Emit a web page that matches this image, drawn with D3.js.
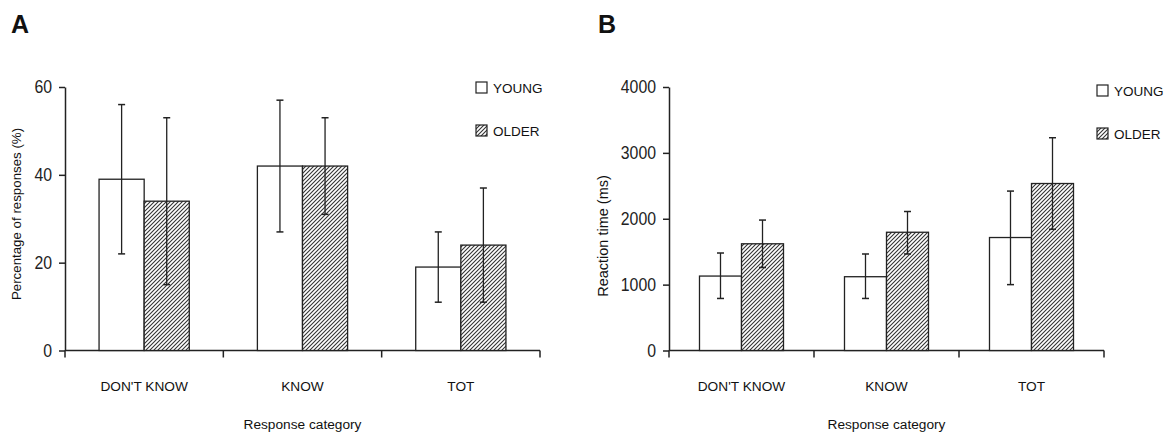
<!DOCTYPE html>
<html>
<head>
<meta charset="UTF-8">
<script src="https://cdn.jsdelivr.net/npm/d3@7"></script>
<style>
  body { margin: 0; background: #fff; }
  svg { display: block; }
  .lbl { font-family: Arial, "Liberation Sans", sans-serif; fill: #111; }
  .tick text { font-family: Arial, "Liberation Sans", sans-serif; font-size: 18px; fill: #222; }
  .tick line, .domain { stroke: #222; }
</style>
</head>
<body>
<script>
// categories and groups
const categories = ["DON'T KNOW", "KNOW", "TOT"];
const groups = ["YOUNG", "OLDER"];

// panel A: percentage of responses
const pctYoung = [39, 42, 19];
const pctYoungLo = [22, 27, 11];
const pctYoungHi = [56, 57, 27];
const pctOlder = [34, 42, 24];
const pctOlderLo = [15, 31, 11];
const pctOlderHi = [53, 53, 37];
const pctTicks = [0, 20, 40, 60];

// panel B: reaction time
const rtYoung = [1130, 1120, 1715];
const rtYoungLo = [790, 790, 1000];
const rtYoungHi = [1480, 1465, 2420];
const rtOlder = [1620, 1795, 2535];
const rtOlderLo = [1260, 1465, 1840];
const rtOlderHi = [1980, 2110, 3230];
const rtTicks = [0, 1000, 2000, 3000, 4000];

const svg = d3.select("body").append("svg")
  .attr("width", 1166).attr("height", 432);

// hatch pattern for OLDER bars
const pat = svg.append("defs").append("pattern")
  .attr("id", "hatch").attr("patternUnits", "userSpaceOnUse")
  .attr("width", 4).attr("height", 4);
pat.append("rect").attr("width", 4).attr("height", 4).attr("fill", "#fff");
pat.append("path").attr("d", "M-1,1 l2,-2 M0,4 l4,-4 M3,5 l2,-2")
  .attr("stroke", "#333").attr("stroke-width", 1.1);

function panel(opt) {
  const x0 = d3.scaleBand().domain(categories).range([opt.left, opt.right]);
  const x1 = d3.scaleBand().domain(groups).range([0, x0.bandwidth()]).paddingOuter(opt.pad);
  const y = d3.scaleLinear().domain([0, opt.max]).range([350.5, 87]);

  const g = svg.append("g");

  // y axis (narrow digits)
  g.append("g")
    .attr("transform", "translate(" + opt.left + ",0)")
    .call(d3.axisLeft(y).tickValues(opt.ticks).tickFormat(d3.format("d"))
      .tickSize(6).tickSizeOuter(0).tickPadding(7))
    .call(a => a.selectAll("line, path").attr("stroke-width", 1.5))
    .call(a => a.selectAll(".tick text")
      .attr("textLength", d => String(d).length * 8.8)
      .attr("lengthAdjust", "spacingAndGlyphs"));

  // x axis line + ticks at band edges
  g.append("line")
    .attr("x1", opt.left).attr("x2", opt.right)
    .attr("y1", y(0)).attr("y2", y(0))
    .attr("stroke", "#222").attr("stroke-width", 1.5);
  const edges = categories.map(c => x0(c)).concat([opt.right]);
  g.selectAll(".xt").data(edges).enter().append("line")
    .attr("x1", d => d).attr("x2", d => d)
    .attr("y1", y(0)).attr("y2", y(0) + 7)
    .attr("stroke", "#222").attr("stroke-width", 1.5);

  const series = [
    { key: "YOUNG", v: opt.young, lo: opt.youngLo, hi: opt.youngHi, fill: "#fff" },
    { key: "OLDER", v: opt.older, lo: opt.olderLo, hi: opt.olderHi, fill: "url(#hatch)" }
  ];

  series.forEach(s => {
    const bx = (i) => x0(categories[i]) + x1(s.key);
    g.selectAll(".b" + s.key).data(s.v).enter().append("rect")
      .attr("x", (d, i) => bx(i))
      .attr("y", d => y(d))
      .attr("width", x1.bandwidth())
      .attr("height", d => y(0) - y(d))
      .attr("fill", s.fill)
      .attr("stroke", "#222").attr("stroke-width", 1.3);
  });

  // error bars on top
  series.forEach(s => {
    s.v.forEach((d, i) => {
      const cx = x0(categories[i]) + x1(s.key) + x1.bandwidth() / 2;
      g.append("line").attr("x1", cx).attr("x2", cx)
        .attr("y1", y(s.lo[i])).attr("y2", y(s.hi[i]))
        .attr("stroke", "#222").attr("stroke-width", 1.3);
      [s.lo[i], s.hi[i]].forEach(e => {
        g.append("line").attr("x1", cx - 3.5).attr("x2", cx + 3.5)
          .attr("y1", y(e)).attr("y2", y(e))
          .attr("stroke", "#222").attr("stroke-width", 1.5);
      });
    });
  });

  // category labels
  g.selectAll(".cat").data(categories).enter().append("text")
    .attr("class", "lbl")
    .attr("x", d => x0(d) + x0.bandwidth() / 2)
    .attr("y", 391)
    .attr("text-anchor", "middle")
    .style("font-size", "13.7px")
    .text(d => d);

  // axis titles
  g.append("text").attr("class", "lbl")
    .attr("x", (opt.left + opt.right) / 2).attr("y", 429)
    .attr("text-anchor", "middle").style("font-size", "13.7px")
    .text("Response category");
  g.append("text").attr("class", "lbl")
    .attr("transform", "translate(" + opt.yTitleX + "," + opt.yTitleY + ") rotate(-90)")
    .attr("text-anchor", "middle").style("font-size", opt.yTitleSize)
    .text(opt.yTitle);

  // panel letter
  g.append("text").attr("class", "lbl")
    .attr("x", opt.letterX).attr("y", 33)
    .style("font-size", "25px").style("font-weight", "bold")
    .text(opt.letter);

  // legend
  const lg = g.selectAll(".lg").data(series).enter().append("g")
    .attr("transform", (d, i) => "translate(" + opt.legX + "," + (opt.legY + i * 43) + ")");
  lg.append("rect").attr("width", 11).attr("height", 11)
    .attr("fill", d => d.fill).attr("stroke", "#222").attr("stroke-width", 1.2);
  lg.append("text").attr("class", "lbl")
    .attr("x", 17).attr("y", 11)
    .style("font-size", "13.5px")
    .text(d => d.key);
}

panel({
  left: 65, right: 540, max: 60, ticks: pctTicks, pad: 0.755,
  young: pctYoung, youngLo: pctYoungLo, youngHi: pctYoungHi,
  older: pctOlder, olderLo: pctOlderLo, olderHi: pctOlderHi,
  yTitleX: 21, yTitleY: 214, yTitleSize: "13.3px", yTitle: "Percentage of responses (%)",
  letter: "A", letterX: 11, legX: 476, legY: 82
});

panel({
  left: 669, right: 1104, max: 4000, ticks: rtTicks, pad: 0.726,
  young: rtYoung, youngLo: rtYoungLo, youngHi: rtYoungHi,
  older: rtOlder, olderLo: rtOlderLo, olderHi: rtOlderHi,
  yTitleX: 608, yTitleY: 236, yTitleSize: "14.5px", yTitle: "Reaction time (ms)",
  letter: "B", letterX: 598, legX: 1097, legY: 85
});
</script>
</body>
</html>
